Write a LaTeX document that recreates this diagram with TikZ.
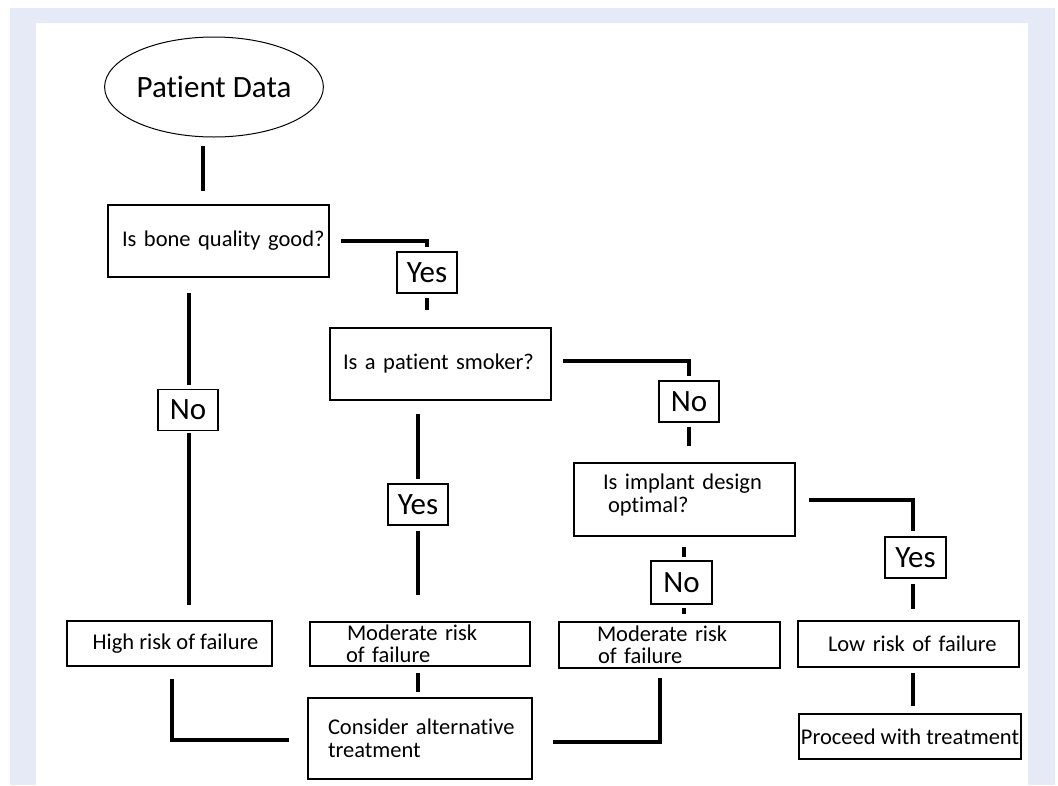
\documentclass[tikz,border=0pt]{standalone}
\usepackage{fontspec}
\setmainfont{Carlito}[Ligatures={NoCommon}]
\usetikzlibrary{shapes.geometric,positioning}
\definecolor{frameblue}{HTML}{E6EAF6}
\newcommand{\ind}[1]{\hspace*{#1}}

\begin{document}
\begin{tikzpicture}[x=1pt,y=-1pt,
		box/.style={draw,line width=1.1pt,inner sep=0pt,align=left,font=\fontsize{22.5}{22.5}\selectfont},
		ans/.style={draw,line width=1.1pt,inner sep=0pt,minimum width=60pt,minimum height=41pt,font=\fontsize{31}{31}\selectfont},
		conn/.style={line width=4pt}]
	% page and frame
	\fill[white] (0,0) rectangle (1058,785);
	\fill[frameblue] (10,8) rectangle (1055,785);
	\fill[white] (36,23) rectangle (1028,785);

	\node[ellipse,draw,line width=1pt,minimum width=192pt,minimum height=100pt,inner sep=0pt,
		font=\fontsize{31}{31}\selectfont] (pd) at (214,87) {Patient Data};

	% questions
	\node[box,minimum height=72pt,text width=221pt] (q1) at (218.5,241) {\ind{14pt}Is bone quality good?};
	\node[box,minimum height=72pt,text width=221pt] (q2) at (440.5,364) {\ind{13pt}Is a patient smoker?\\[-18pt]\mbox{}};
	\node[box,minimum height=73pt,text width=221pt] (q3) at (684.5,499.5) {\ind{29pt}Is implant design\\\ind{34pt}optimal?\\[-10pt]\mbox{}};

	% answers
	\node[ans] (yes1) at (427,272.5) {Yes};
	\node[ans] (no1)  at (188,410)   {No};
	\node[ans] (no2)  at (689,401.5) {No};
	\node[ans] (yes2) at (418,504.5) {Yes};
	\node[ans,minimum width=61pt] (yes3) at (915.5,557.5) {Yes};
	\node[ans,minimum width=61pt,minimum height=43pt] (no3) at (681.5,582.5) {No};

	% outcomes
	\node[box,minimum width=205pt,minimum height=45pt,align=center] (high) at (169.5,643.5) {\ind{12pt}High risk of failure};
	\node[box,minimum height=44pt,text width=220pt] (mod1) at (420,644) {\ind{37pt}Moderate risk\\\ind{36pt}of failure};
	\node[box,minimum height=46pt,text width=221pt] (mod2) at (669.5,645) {\ind{38pt}Moderate risk\\\ind{39pt}of failure};
	\node[box,minimum height=46pt,text width=221pt] (low) at (908.5,644) {\ind{30pt}Low risk of failure};
	\node[box,minimum width=222pt,minimum height=45pt,align=center] (go) at (910,736.5) {Proceed with treatment};
	\node[box,minimum height=81pt,text width=224pt] (cons) at (420,738.5) {\ind{20pt}Consider alternative\\\ind{20pt}treatment};

	% connectors
	\draw[conn,shorten <=8pt,shorten >=13pt] ([xshift=-11pt]pd.south) -- ([xshift=-11pt]pd.south |- q1.north);
	\draw[conn,shorten <=11pt,shorten >=4pt] (q1.east) -| (yes1.north);
	\draw[conn,shorten <=4pt,shorten >=17pt] (yes1.south) -- (yes1.south |- q2.north);
	\draw[conn,shorten <=11pt,shorten >=4pt] ([yshift=3pt]q2.east) -| (no2.north);
	\draw[conn,shorten <=4pt,shorten >=16pt] (no2.south) -- (no2.south |- q3.north);
	\draw[conn,shorten <=13pt,shorten >=5pt] (q3.east) -| ([xshift=-3pt]yes3.north);
	\draw[conn,shorten <=5pt,shorten >=11pt] ([xshift=-3pt]yes3.south) -- ([xshift=-3pt]yes3.south |- low.north);
	\draw[conn,shorten <=5pt,shorten >=7pt] ([xshift=-3pt]yes3.south |- low.south) -- ([xshift=-3pt]yes3.south |- go.north);
	\draw[conn,shorten <=10pt,shorten >=3pt] ([xshift=2.5pt]no3.north |- q3.south) -- ([xshift=2.5pt]no3.north);
	\draw[conn,shorten <=3pt,shorten >=7pt] ([xshift=2.5pt]no3.south) -- ([xshift=2.5pt]no3.south |- mod2.north);
	\draw[conn,shorten <=15pt,shorten >=4pt] ([xshift=1pt]no1.north |- q1.south) -- ([xshift=1pt]no1.north);
	\draw[conn,shorten <=2pt,shorten >=15pt] ([xshift=1pt]no1.south) -- ([xshift=1pt]no1.south |- high.north);
	\draw[conn,shorten <=13pt,shorten >=4pt] (yes2.north |- q2.south) -- (yes2.north);
	\draw[conn,shorten <=5pt,shorten >=26pt] (yes2.south) -- (yes2.south |- mod1.north);
	\draw[conn,shorten <=6pt,shorten >=5pt] ([xshift=-2pt]mod1.south) -- ([xshift=-2pt]mod1.south |- cons.north);
	\draw[conn,shorten <=12pt,shorten >=18pt] ([xshift=2.5pt]high.south) |- ([yshift=-1.5pt]cons.west);
	\draw[conn,shorten <=9pt,shorten >=20pt] ([xshift=-9.5pt]mod2.south) |- ([yshift=-3.5pt]cons.east);
\end{tikzpicture}
\end{document}
